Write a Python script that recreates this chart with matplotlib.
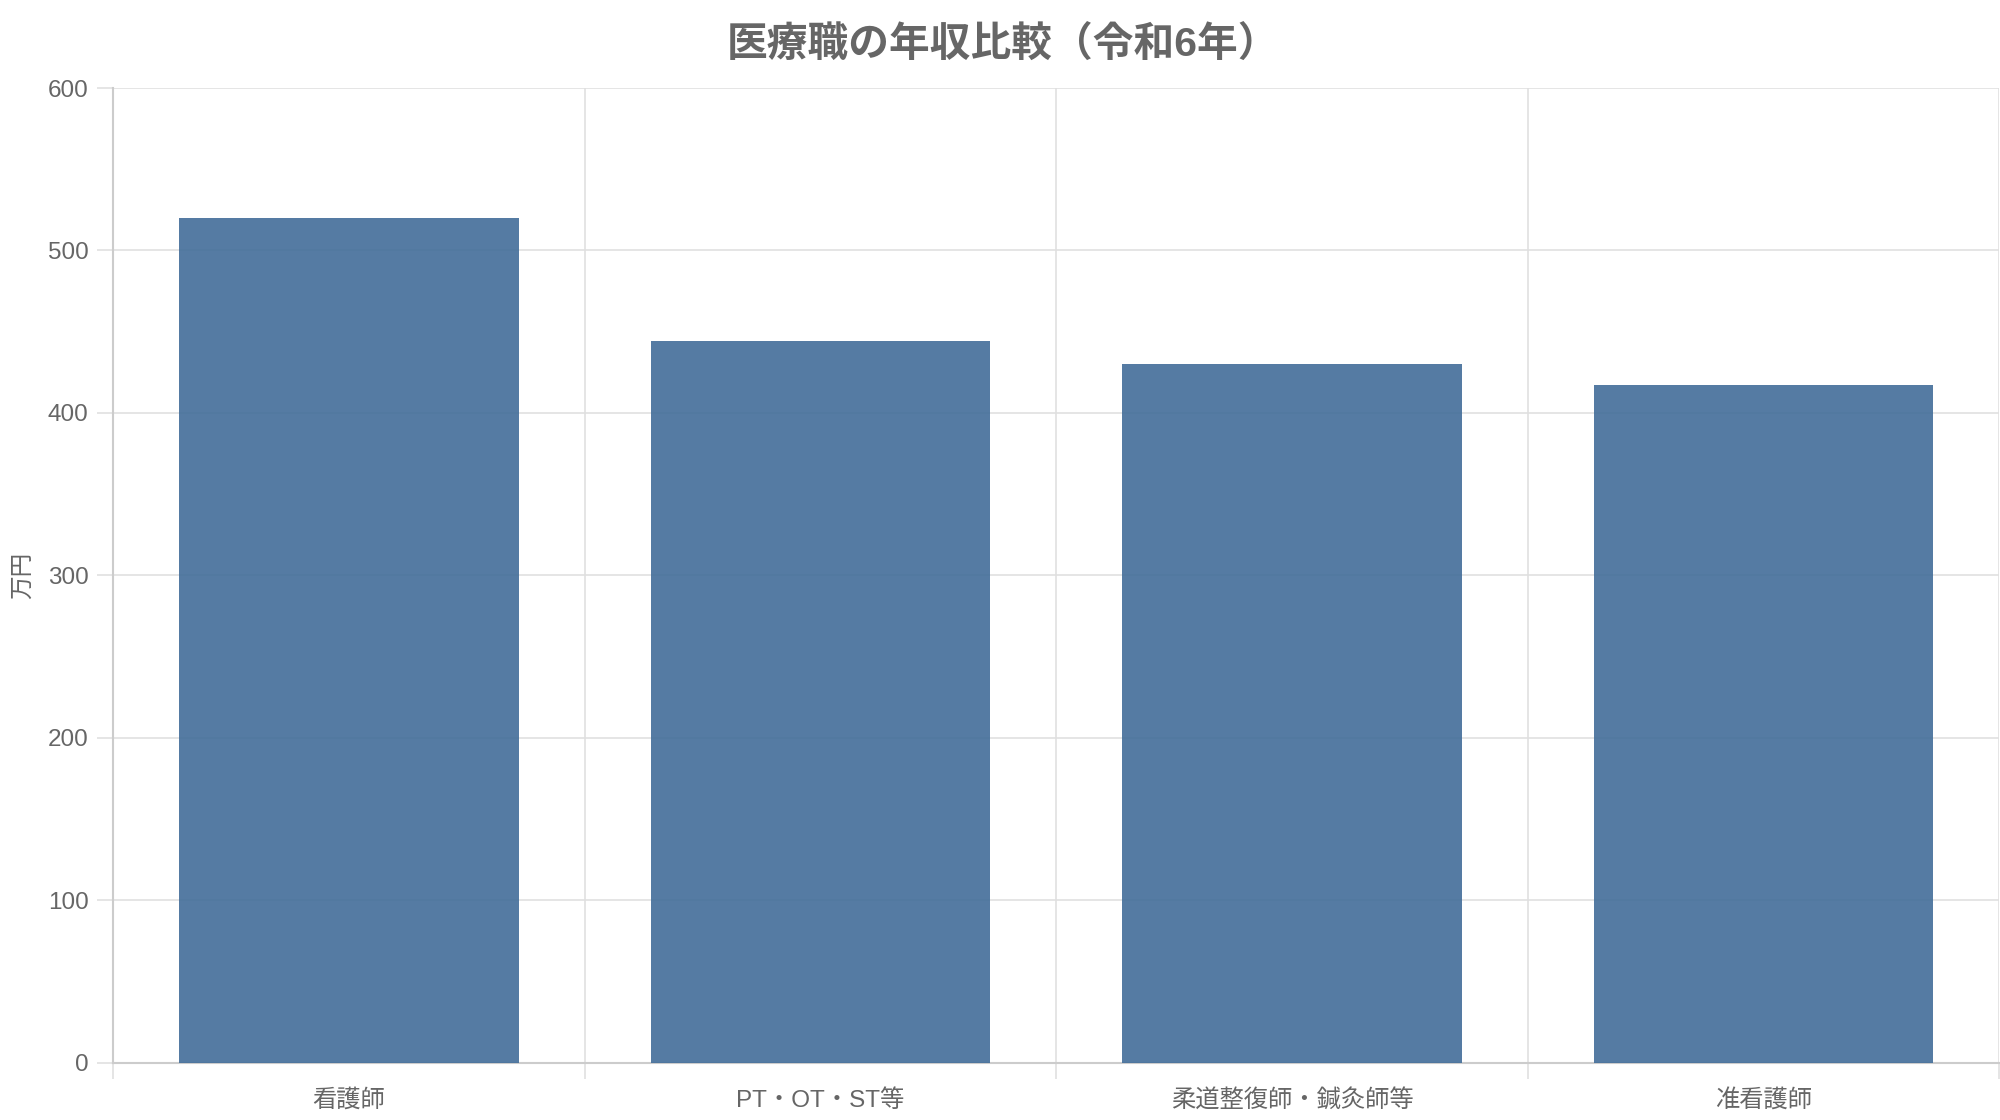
import matplotlib
matplotlib.use("Agg")
import matplotlib.pyplot as plt
import numpy as np

plt.rcParams['font.family'] = ['Liberation Sans', 'Noto Sans CJK JP', 'DejaVu Sans']

categories = ['看護師', 'PT・OT・ST等', '柔道整復師・鍼灸師等', '准看護師']
salaries = [520, 444, 430, 417]
y_ticks = [0, 100, 200, 300, 400, 500, 600]

text_gray = '#666666'
grid_gray = '#e0e0e0'
axis_gray = '#cccccc'

fig = plt.figure(figsize=(20, 11.2), dpi=100)
ax = fig.add_axes([0.0565, 0.0513, 0.9432, 0.8701])

x = np.arange(len(categories))
ax.bar(x, salaries, width=0.72, color='#426D99', alpha=0.9, zorder=3)

ax.set_xlim(-0.5, len(categories) - 0.5)
ax.set_ylim(0, 600)
ax.set_yticks(y_ticks)
ax.set_yticklabels([str(v) for v in y_ticks])
ax.set_xticks(x)
ax.set_xticklabels(categories)
ax.set_xticks(np.arange(-0.5, len(categories)), minor=True)

ax.grid(axis='y', color=grid_gray, linewidth=1.2, zorder=0)
ax.grid(axis='x', which='minor', color=grid_gray, linewidth=1.2, zorder=0)
ax.grid(axis='x', which='major', visible=False)

ax.tick_params(axis='y', length=11.5, width=1.2, color=grid_gray, pad=6,
               labelsize=17.5, labelcolor=text_gray)
ax.tick_params(axis='x', which='major', length=0, pad=19,
               labelsize=17.5, labelcolor=text_gray)
ax.tick_params(axis='x', which='minor', length=11.5, width=1.2, color=grid_gray)

for side in ['top', 'right']:
    ax.spines[side].set_visible(False)
for side in ['left', 'bottom']:
    ax.spines[side].set_color(axis_gray)
    ax.spines[side].set_linewidth(1.5)

fig.text(0.0115, 0.4866, '万円', rotation=90, ha='center', va='center',
         fontsize=17, color=text_gray)
fig.text(0.5015, 0.96, '医療職の年収比較（令和6年）', ha='center', va='center',
         fontsize=29.3, fontweight='bold', color=text_gray)

fig.savefig('out.png', dpi=100)
